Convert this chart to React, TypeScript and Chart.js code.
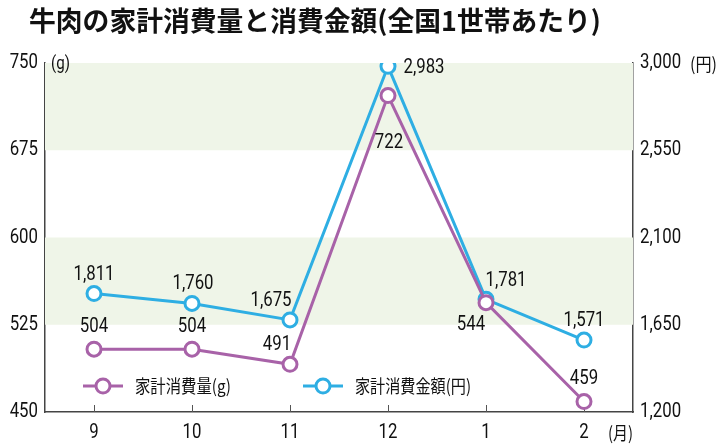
import React, { useEffect, useRef } from "react";
import { Chart, registerables } from "chart.js";

Chart.register(...registerables);

const months = ["9", "10", "11", "12", "1", "2"];
const consumptionG = [504, 504, 491, 722, 544, 459];
const spendingYen = [1811, 1760, 1675, 2983, 1781, 1571];
const leftTicks = [450, 525, 600, 675, 750];
const rightTicks = [1200, 1650, 2100, 2550, 3000];
const bands: [number, number][] = [[675, 750], [525, 600]];

const PURPLE = "#a862a8";
const BLUE = "#2eaee3";
const NUM_FONT = 'Roboto, "Noto Sans", sans-serif';
const JP_FONT = '"Noto Sans CJK JP", sans-serif';
const SQUEEZE = 0.84;

// label offsets relative to point [dx, dy]
const gLabelOff: [number, number][] = [[0, -22], [0, -22], [-13, -19], [1, 47], [-15, 22], [0, -23]];
const yLabelOff: [number, number][] = [[0, -19], [1, -19], [-19, -19], [36, 2], [20, -18], [0, -19]];

const fmt = (v: number) => v.toLocaleString("en-US");

function numText(ctx: CanvasRenderingContext2D, text: string, x: number, y: number, align: CanvasTextAlign, size = 20) {
  ctx.save();
  ctx.translate(x, y);
  ctx.scale(SQUEEZE, 1);
  ctx.font = `${size}px ${NUM_FONT}`;
  ctx.textAlign = align;
  ctx.textBaseline = "middle";
  ctx.fillStyle = "#111";
  ctx.fillText(text, 0, 0);
  ctx.restore();
}

const decorPlugin = {
  id: "decor",
  beforeDatasetsDraw(chart: any) {
    const { ctx, chartArea } = chart;
    const y = chart.scales.y;
    ctx.save();
    ctx.fillStyle = "#eff5e8";
    for (const [a, b] of bands) {
      const top = y.getPixelForValue(b);
      const bot = y.getPixelForValue(a);
      ctx.fillRect(chartArea.left, top, chartArea.right - chartArea.left, bot - top);
    }
    const x = chart.scales.x;
    ctx.strokeStyle = "#555";
    ctx.lineWidth = 1;
    months.forEach((_, i) => {
      const px = Math.round(x.getPixelForValue(i)) + 0.5;
      ctx.beginPath();
      ctx.moveTo(px, chartArea.bottom);
      ctx.lineTo(px, chartArea.bottom - 7);
      ctx.stroke();
    });
    ctx.restore();
  },
  afterDatasetsDraw(chart: any) {
    const { ctx, chartArea } = chart;
    const x = chart.scales.x;
    const yl = chart.scales.y;
    const yr = chart.scales.y1;
    ctx.save();
    // title
    ctx.fillStyle = "#111";
    ctx.font = `bold 27px ${JP_FONT}`;
    ctx.textAlign = "left";
    ctx.textBaseline = "middle";
    ctx.fillText("牛肉の家計消費量と消費金額(全国1世帯あたり)", 29, 21, 572);

    // axis tick labels
    leftTicks.forEach((v) => numText(ctx, String(v), chartArea.left - 7, yl.getPixelForValue(v), "right"));
    rightTicks.forEach((v) => numText(ctx, fmt(v), chartArea.right + 7, yr.getPixelForValue(v), "left"));
    months.forEach((m, i) => numText(ctx, m, x.getPixelForValue(i), 433, "center"));

    // units
    numText(ctx, "(g)", 51, 64, "left", 18);
    ctx.fillStyle = "#111";
    ctx.font = `18px ${JP_FONT}`;
    ctx.textAlign = "left";
    ctx.textBaseline = "middle";
    ctx.fillText("(円)", 690, 64, 27);
    ctx.fillText("(月)", 608, 433, 25);

    // data labels
    consumptionG.forEach((v, i) => {
      numText(ctx, fmt(v), x.getPixelForValue(i) + gLabelOff[i][0], yl.getPixelForValue(v) + gLabelOff[i][1], "center");
    });
    spendingYen.forEach((v, i) => {
      numText(ctx, fmt(v), x.getPixelForValue(i) + yLabelOff[i][0], yr.getPixelForValue(v) + yLabelOff[i][1], "center");
    });

    // legend
    const legend = [
      { label: "家計消費量(g)", color: PURPLE, x0: 83, w: 96 },
      { label: "家計消費金額(円)", color: BLUE, x0: 303, w: 116 },
    ];
    const ly = 386;
    legend.forEach((l) => {
      ctx.strokeStyle = l.color;
      ctx.lineWidth = 3;
      ctx.beginPath();
      ctx.moveTo(l.x0, ly);
      ctx.lineTo(l.x0 + 40, ly);
      ctx.stroke();
      ctx.beginPath();
      ctx.arc(l.x0 + 20, ly, 7, 0, Math.PI * 2);
      ctx.fillStyle = "#fff";
      ctx.fill();
      ctx.stroke();
      ctx.fillStyle = "#111";
      ctx.font = `18px ${JP_FONT}`;
      ctx.textAlign = "left";
      ctx.textBaseline = "middle";
      ctx.fillText(l.label, l.x0 + 52, ly, l.w);
    });
    ctx.restore();
  },
};

export default function App() {
  const ref = useRef<HTMLCanvasElement | null>(null);
  useEffect(() => {
    if (!ref.current) return;
    const chart = new Chart(ref.current, {
      type: "line",
      data: {
        labels: months,
        datasets: [
          {
            label: "家計消費量(g)",
            data: consumptionG,
            yAxisID: "y",
            borderColor: PURPLE,
            backgroundColor: "#fff",
            borderWidth: 3,
            pointRadius: 7,
            pointBorderWidth: 3,
            pointBackgroundColor: "#fff",
            pointBorderColor: PURPLE,
          },
          {
            label: "家計消費金額(円)",
            data: spendingYen,
            yAxisID: "y1",
            borderColor: BLUE,
            backgroundColor: "#fff",
            borderWidth: 3,
            pointRadius: 7,
            pointBorderWidth: 3,
            pointBackgroundColor: "#fff",
            pointBorderColor: BLUE,
          },
        ],
      },
      options: {
        responsive: false,
        animation: false,
        layout: { padding: { top: 63, left: 0, right: 0, bottom: 0 } },
        plugins: { legend: { display: false }, title: { display: false }, tooltip: { enabled: false } },
        scales: {
          x: {
            offset: true,
            grid: { display: false, drawTicks: false },
            border: { display: true, color: "#444", width: 1.5 },
            ticks: { display: false },
            afterFit: (s: any) => { s.height = 36; },
          },
          y: {
            position: "left",
            min: 450,
            max: 750,
            grid: { display: false, drawTicks: false },
            border: { display: true, color: "#444", width: 1.5 },
            ticks: { display: false },
            afterFit: (s: any) => { s.width = 45; },
          },
          y1: {
            position: "right",
            min: 1200,
            max: 3000,
            grid: { display: false, drawTicks: false },
            border: { display: true, color: "#444", width: 1.5 },
            ticks: { display: false },
            afterFit: (s: any) => { s.width = 87; },
          },
        },
      },
      plugins: [decorPlugin],
    });
    return () => chart.destroy();
  }, []);
  return (
    <div style={{ position: "fixed", left: 0, top: 0, width: 720, height: 448, background: "#fff" }}>
      <canvas ref={ref} width={720} height={448} style={{ width: 720, height: 448 }} />
    </div>
  );
}
